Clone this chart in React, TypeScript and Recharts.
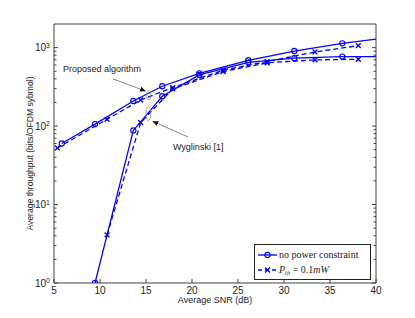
import React from "react";
import {
  LineChart,
  Line,
  XAxis,
  YAxis,
  ReferenceLine,
  ReferenceDot,
  Legend,
} from "recharts";

const BLUE = "#0000ff";
const AXIS = "#404040";
const SANS = "'Liberation Sans', Arial, Helvetica, sans-serif";
const SERIF = "'Liberation Serif', 'Times New Roman', serif";

// axis ticks
const xTicks = [5, 10, 15, 20, 25, 30, 35, 40];
const yMajor = [1, 10, 100, 1000];
const yTicks = [
  1, 2, 3, 4, 5, 6, 7, 8, 9, 10, 20, 30, 40, 50, 60, 70, 80, 90, 100, 200,
  300, 400, 500, 600, 700, 800, 900, 1000,
];

// proposed algorithm, no power constraint
const snrProposedSolid = [5.84, 9.46, 13.62, 16.77, 20.79, 26.12, 31.12, 36.34, 40];
const proposedSolid = [60, 106, 209, 322, 470, 690, 905, 1135, 1280];
// proposed algorithm, P_th = 0.1mW
const snrProposedDashed = [5.36, 10.77, 14.42, 17.9, 23.38, 28.17, 33.37, 38.08];
const proposedDashed = [52.6, 122, 215, 310, 515, 665, 880, 1060];
// Wyglinski [1], no power constraint
const snrWygSolid = [9.46, 13.62, 16.77, 20.79, 26.12, 31.12, 36.34, 40];
const wygSolid = [1, 88, 240, 448, 650, 733, 768, 770];
// Wyglinski [1], P_th = 0.1mW
const snrWygDashed = [10.77, 14.42, 17.9, 23.38, 28.17, 33.37, 38.08];
const wygDashed = [4.1, 111, 298, 495, 640, 697, 711];

const rows = (xs: number[], ys: number[]) =>
  xs.map((snr, i) => ({ snr, v: ys[i] }));

const CircleDot = (p: any) => {
  if (p.payload?.snr === 40) return <g key={`c-${p.index}`} />;
  return (
    <circle
      key={`c-${p.index}`}
      cx={p.cx}
      cy={p.cy}
      r={2.6}
      fill="none"
      stroke={BLUE}
      strokeWidth={1.1}
    />
  );
};

const CrossDot = (p: any) => (
  <g key={`x-${p.index}`} stroke={BLUE} strokeWidth={1.4}>
    <line x1={p.cx - 2.4} y1={p.cy - 2.4} x2={p.cx + 2.4} y2={p.cy + 2.4} />
    <line x1={p.cx - 2.4} y1={p.cy + 2.4} x2={p.cx + 2.4} y2={p.cy - 2.4} />
  </g>
);

const BottomTick = ({ x, y, payload }: any) => (
  <g>
    <line x1={x} x2={x} y1={y - 4} y2={y - 8} stroke={AXIS} />
    <text x={x} y={y} dy="0.72em" textAnchor="middle" fontFamily={SANS} fontSize={10} fill="#222">
      {payload.value}
    </text>
  </g>
);

const TopTick = ({ x, y }: any) => (
  <line x1={x} x2={x} y1={y} y2={y + 4} stroke={AXIS} />
);

const LeftTick = ({ x, y, payload }: any) => {
  const major = yMajor.includes(payload.value);
  const exp = Math.round(Math.log10(payload.value));
  return (
    <g>
      <line x1={x + 4} x2={x + 4 + (major ? 4 : 2.5)} y1={y} y2={y} stroke={AXIS} />
      {major && (
        <text x={x} y={y} dy="0.36em" textAnchor="end" fontFamily={SANS} fontSize={10} fill="#222">
          10
          <tspan dy="-0.5em" fontSize={7}>
            {exp}
          </tspan>
        </text>
      )}
    </g>
  );
};

const RightTick = ({ x, y, payload }: any) => {
  const major = yMajor.includes(payload.value);
  return <line x1={x} x2={x - (major ? 4 : 2.5)} y1={y} y2={y} stroke={AXIS} />;
};

const LegendBox = () => (
  <svg width={118} height={36} style={{ display: "block" }}>
    <rect x={0.5} y={0.5} width={116} height={35} fill="#fff" stroke="#222" />
    <line x1={4} x2={23} y1={11} y2={11} stroke={BLUE} strokeWidth={1.3} />
    <circle cx={13.5} cy={11} r={2.6} fill="none" stroke={BLUE} strokeWidth={1.1} />
    <text x={25} y={11} dy="0.33em" fontFamily={SERIF} fontSize={10} fill="#222">
      no power constraint
    </text>
    <line x1={4} x2={23} y1={26} y2={26} stroke={BLUE} strokeWidth={1.3} strokeDasharray="4 3" />
    <g stroke={BLUE} strokeWidth={1.4}>
      <line x1={11.1} y1={23.6} x2={15.9} y2={28.4} />
      <line x1={11.1} y1={28.4} x2={15.9} y2={23.6} />
    </g>
    <text x={25} y={26} dy="0.33em" fontFamily={SERIF} fontSize={10} fill="#222">
      <tspan fontStyle="italic">P</tspan>
      <tspan fontSize={6.5} fontStyle="italic" dy="2">th</tspan>
      <tspan dy="-2"> = 0.1</tspan>
      <tspan fontStyle="italic">mW</tspan>
    </text>
  </svg>
);

const Ellipse = (rx: number, ry: number) => (p: any) => (
  <ellipse cx={p.cx} cy={p.cy} rx={rx} ry={ry} fill="none" stroke="#888" strokeWidth={0.8} />
);

const Note = (label: string) => (p: any) => (
  <text x={p.cx} y={p.cy} dy="0.35em" fontFamily={SANS} fontSize={9} fill="#222">
    {label}
  </text>
);

const Arrow = (p: any) => (
  <line
    x1={p.x1}
    y1={p.y1}
    x2={p.x2}
    y2={p.y2}
    stroke="#666"
    strokeWidth={0.8}
    markerEnd="url(#arrowHead)"
  />
);

export default function App() {
  return (
    <div style={{ width: 415, height: 318, background: "#fff" }}>
      <style>{"body{margin:0}"}</style>
      <LineChart width={415} height={318} margin={{ top: 0, right: 0, bottom: 0, left: 0 }}>
        <defs>
          <marker id="arrowHead" markerWidth={6} markerHeight={6} refX={5} refY={3} orient="auto" markerUnits="userSpaceOnUse">
            <path d="M0,0.5 L6,3 L0,5.5 Z" fill="#111" />
          </marker>
        </defs>
        <XAxis
          xAxisId="b"
          dataKey="snr"
          type="number"
          domain={[5, 40]}
          ticks={xTicks}
          allowDataOverflow
          height={35}
          tickSize={0}
          tickMargin={4}
          tickLine={false}
          stroke={AXIS}
          tick={<BottomTick />}
          interval={0}
          label={(p: any) => (
            <text
              x={p.viewBox.x + p.viewBox.width / 2}
              y={p.viewBox.y + 17}
              dy="0.35em"
              textAnchor="middle"
              fontFamily={SANS}
              fontSize={9}
              fill="#222"
            >
              Average SNR (dB)
            </text>
          )}
        />
        <XAxis
          xAxisId="t"
          orientation="top"
          type="number"
          domain={[5, 40]}
          ticks={xTicks}
          allowDataOverflow
          height={24}
          tickSize={0}
          tickMargin={0}
          tickLine={false}
          stroke={AXIS}
          tick={<TopTick />}
          interval={0}
        />
        <YAxis
          yAxisId="l"
          scale="log"
          domain={[1, 2000]}
          ticks={yTicks}
          allowDataOverflow
          width={54}
          tickSize={0}
          tickMargin={4}
          tickLine={false}
          stroke={AXIS}
          tick={<LeftTick />}
          interval={0}
          label={(p: any) => {
            const cx = p.viewBox.x + 30;
            const cy = p.viewBox.y + p.viewBox.height / 2;
            return (
              <text
                x={cx}
                y={cy}
                dy="0.35em"
                textAnchor="middle"
                transform={`rotate(-90 ${cx} ${cy})`}
                fontFamily={SANS}
                fontSize={8.6}
                fill="#222"
              >
                Average throughput (bits/OFDM sybmol)
              </text>
            );
          }}
        />
        <YAxis
          yAxisId="r"
          orientation="right"
          scale="log"
          domain={[1, 2000]}
          ticks={yTicks}
          allowDataOverflow
          width={39}
          tickSize={0}
          tickMargin={0}
          tickLine={false}
          stroke={AXIS}
          tick={<RightTick />}
          interval={0}
        />
        <Line
          data={rows(snrProposedSolid, proposedSolid)}
          dataKey="v"
          xAxisId="b"
          yAxisId="l"
          type="linear"
          stroke={BLUE}
          strokeWidth={1.3}
          dot={CircleDot}
          isAnimationActive={false}
        />
        <Line
          data={rows(snrWygSolid, wygSolid)}
          dataKey="v"
          xAxisId="b"
          yAxisId="l"
          type="linear"
          stroke={BLUE}
          strokeWidth={1.3}
          dot={CircleDot}
          isAnimationActive={false}
        />
        <Line
          data={rows(snrProposedDashed, proposedDashed)}
          dataKey="v"
          xAxisId="b"
          yAxisId="l"
          type="linear"
          stroke={BLUE}
          strokeWidth={1.3}
          strokeDasharray="5 3"
          dot={CrossDot}
          isAnimationActive={false}
        />
        <Line
          data={rows(snrWygDashed, wygDashed)}
          dataKey="v"
          xAxisId="b"
          yAxisId="l"
          type="linear"
          stroke={BLUE}
          strokeWidth={1.3}
          strokeDasharray="5 3"
          dot={CrossDot}
          isAnimationActive={false}
        />
        <ReferenceLine
          xAxisId="b"
          yAxisId="l"
          segment={[{ x: 11.41, y: 399 }, { x: 14.89, y: 281 }]}
          shape={Arrow}
        />
        <ReferenceLine
          xAxisId="b"
          yAxisId="l"
          segment={[{ x: 19.57, y: 72.7 }, { x: 15.79, y: 114 }]}
          shape={Arrow}
        />
        <ReferenceDot xAxisId="b" yAxisId="l" x={15.29} y={249} shape={Ellipse(2.1, 4.4)} />
        <ReferenceDot xAxisId="b" yAxisId="l" x={15.25} y={144} shape={Ellipse(2.4, 7)} />
        <ReferenceDot xAxisId="b" yAxisId="l" x={5.98} y={535} shape={Note("Proposed algorithm")} />
        <ReferenceDot xAxisId="b" yAxisId="l" x={17.93} y={54.2} shape={Note("Wyglinski [1]")} />
        <Legend
          layout="horizontal"
          verticalAlign="middle"
          align="center"
          content={() => <LegendBox />}
          wrapperStyle={{ left: 254, top: 244, width: 118, height: 36 }}
        />
      </LineChart>
    </div>
  );
}
